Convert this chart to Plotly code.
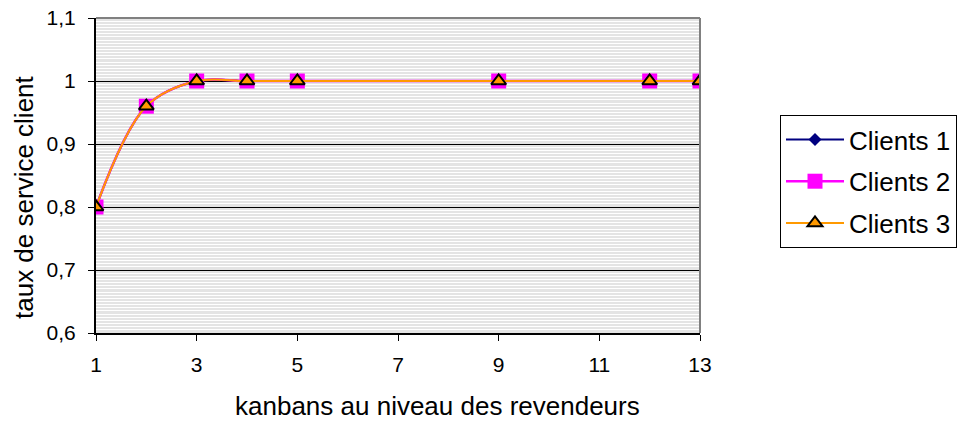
import plotly.graph_objects as go

kanbans = [1, 2, 3, 4, 5, 9, 12, 13]
clients_1 = [0.80, 0.96, 1.00, 1.00, 1.00, 1.00, 1.00, 1.00]
clients_2 = [0.80, 0.96, 1.00, 1.00, 1.00, 1.00, 1.00, 1.00]
clients_3 = [0.80, 0.96, 1.00, 1.00, 1.00, 1.00, 1.00, 1.00]
series_names = ["Clients 1", "Clients 2", "Clients 3"]
x_ticks = [1, 3, 5, 7, 9, 11, 13]
y_ticks = [0.6, 0.7, 0.8, 0.9, 1.0, 1.1]
y_tick_text = ["0,6", "0,7", "0,8", "0,9", "1", "1,1"]
x_title = "kanbans au niveau des revendeurs"
y_title = "taux de service client"

FONT = "Liberation Sans, Arial, sans-serif"

fig = go.Figure()
fig.add_trace(go.Scatter(
    x=kanbans, y=clients_1, name=series_names[0], mode="lines+markers",
    line=dict(color="#000080", width=2, shape="spline"),
    marker=dict(symbol="diamond", size=10, color="#000080"),
    legendgroup="g1"))
fig.add_trace(go.Scatter(
    x=kanbans, y=clients_2, name=series_names[1], mode="lines+markers",
    line=dict(color="#FF00FF", width=2.5, shape="spline"),
    marker=dict(symbol="square", size=15, color="#FF00FF"),
    legendgroup="g2"))
fig.add_trace(go.Scatter(
    x=kanbans, y=clients_3, name=series_names[2], mode="lines+markers",
    line=dict(color="#FF9900", width=2, shape="spline"),
    marker=dict(symbol="triangle-up", size=13, color="#FF9900",
                line=dict(color="black", width=2)),
    legendgroup="g3"))

fig.update_layout(
    width=959, height=423,
    margin=dict(l=96, r=259, t=18, b=90, autoexpand=False),
    paper_bgcolor="white",
    plot_bgcolor="#e4e4e4",
    font=dict(family=FONT, size=21, color="black"),
    showlegend=True,
    legend=dict(
        x=(780 - 96) / 604, y=1 - (115 - 18) / 315,
        xanchor="left", yanchor="top",
        bordercolor="black", borderwidth=1,
        bgcolor="white",
        font=dict(family=FONT, size=26, color="black"),
        itemwidth=58,
        tracegroupgap=5,
    ),
)

fig.update_xaxes(
    range=[1, 13], tickvals=x_ticks, ticktext=[str(v) for v in x_ticks],
    showgrid=False, zeroline=False,
    showline=True, linecolor="black", linewidth=2,
    ticks="outside", ticklen=6, tickcolor="black", tickwidth=1,
    tickfont=dict(family=FONT, size=21), ticklabelstandoff=6,
)
fig.update_yaxes(
    range=[0.6, 1.1], tickvals=y_ticks, ticktext=y_tick_text,
    showgrid=True, gridcolor="black", gridwidth=1,
    zeroline=False,
    showline=True, linecolor="black", linewidth=2,
    ticks="outside", ticklen=6, tickcolor="black", tickwidth=1,
    tickfont=dict(family=FONT, size=21), ticklabelstandoff=8,
    minor=dict(dtick=0.005, showgrid=True, gridcolor="white", gridwidth=1),
)

# gray top & right border of the plot area
fig.add_shape(type="line", xref="x domain", yref="y domain",
              x0=0, x1=1, y0=1, y1=1, line=dict(color="#808080", width=2))
fig.add_shape(type="line", xref="x domain", yref="y domain",
              x0=1, x1=1, y0=0, y1=1, line=dict(color="#808080", width=2))

fig.add_annotation(text=x_title, xref="paper", yref="paper",
                   x=(437 - 96) / 604, y=-(406 - 333) / 315,
                   xanchor="center", yanchor="middle", showarrow=False,
                   font=dict(family=FONT, size=26, color="black"))
fig.add_annotation(text=y_title, xref="paper", yref="paper",
                   x=(24 - 96) / 604, y=1 - (197 - 18) / 315,
                   xanchor="center", yanchor="middle", showarrow=False,
                   textangle=-90,
                   font=dict(family=FONT, size=26, color="black"))

fig.write_html(
    "out.html",
    config={"displayModeBar": False},
    post_script="document.body.style.margin='0';document.body.style.overflow='hidden';",
)
